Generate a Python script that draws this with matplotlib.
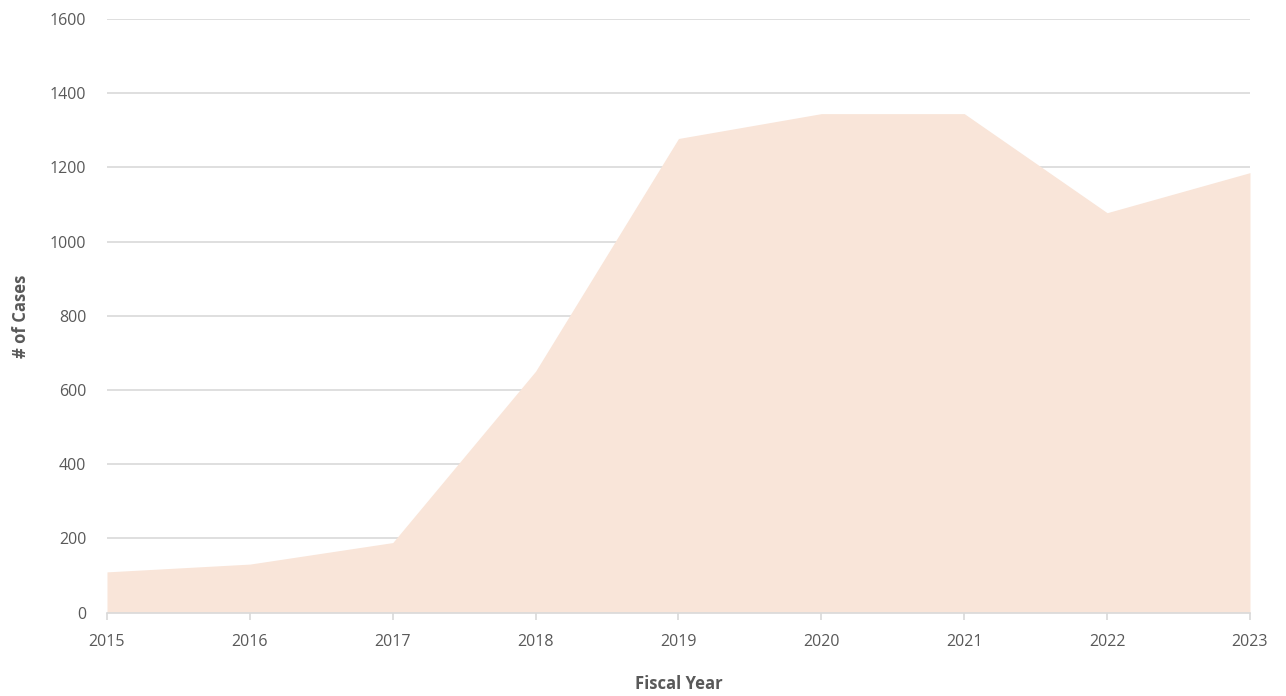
import matplotlib
matplotlib.use("Agg")
import matplotlib.pyplot as plt

years = [2015, 2016, 2017, 2018, 2019, 2020, 2021, 2022, 2023]
cases = [110, 131, 189, 651, 1278, 1345, 1345, 1078, 1186]
y_ticks = [0, 200, 400, 600, 800, 1000, 1200, 1400, 1600]

FILL = "#f9e5d9"
GRID = "#d9d9d9"
TEXT = "#595959"

plt.rcParams["font.family"] = ["Open Sans", "DejaVu Sans"]

fig = plt.figure(figsize=(12.86, 6.96), dpi=100)
ax = fig.add_axes([0.0832, 0.1197, 0.8888, 0.853])

ax.fill_between(years, cases, 0, color=FILL, linewidth=0, zorder=2)

ax.set_xlim(years[0], years[-1])
ax.set_ylim(0, 1600)
ax.set_xticks(years)
ax.set_yticks(y_ticks)
ax.yaxis.grid(True, color=GRID, linewidth=1.2, zorder=0)
ax.set_axisbelow(True)

for side in ("top", "right", "left"):
    ax.spines[side].set_visible(False)
ax.spines["bottom"].set_color(GRID)
ax.spines["bottom"].set_linewidth(1.2)
ax.spines["bottom"].set_zorder(3)

ax.tick_params(axis="x", colors=GRID, length=5, width=1.2, labelcolor=TEXT,
               labelsize=11.5, pad=10)
ax.tick_params(axis="y", length=0, labelcolor=TEXT, labelsize=11.5, pad=15)

ax.set_xlabel("Fiscal Year", fontsize=12, fontweight="bold", color=TEXT, labelpad=18)
ax.set_ylabel("# of Cases", fontsize=12, fontweight="bold", color=TEXT, labelpad=14)

fig.savefig("out.png", dpi=100)
